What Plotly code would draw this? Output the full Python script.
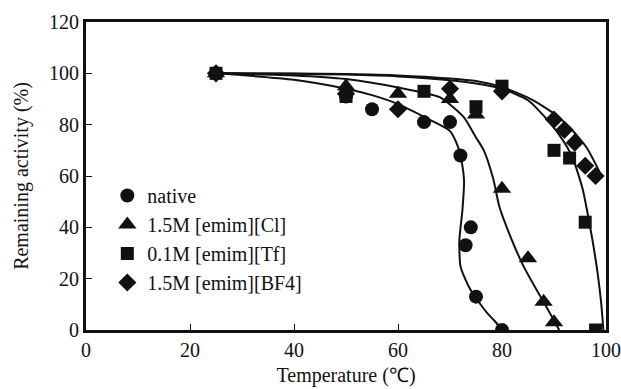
import plotly.graph_objects as go

# ---- measured data points ----
native_T = [25, 50, 55, 65, 70, 72, 73, 74, 75, 80]
native_A = [100, 91, 86, 81, 81, 68, 33, 40, 13, 0]

cl_T = [25, 50, 60, 70, 75, 80, 85, 88, 90]
cl_A = [100, 95, 92, 90, 84, 55, 28, 11, 3]

tf_T = [25, 50, 65, 75, 80, 90, 93, 96, 98]
tf_A = [100, 91, 93, 87, 95, 70, 67, 42, 0]

bf4_T = [25, 50, 60, 70, 80, 90, 92, 94, 96, 98]
bf4_A = [100, 92, 86, 94, 93, 82, 78, 73, 64, 60]

# ---- fitted curves ----
native_fit_T = [25, 40, 50, 55, 60, 66, 70, 71.6, 72.3, 72.7, 72.4, 71.8, 72.0, 73.0, 74.0, 75.5, 77.2, 78.6, 80]
native_fit_A = [100, 97.5, 94, 91.5, 88, 82, 77.5, 71, 65, 58, 47, 35, 25, 19.5, 15.5, 11, 6.5, 3.5, 0]

cl_fit_T = [25, 40, 50, 60, 68, 72.6, 75, 76.5, 78.3, 79.5, 81.7, 84.2, 87.4, 89.6, 91]
cl_fit_A = [100, 99.2, 97.8, 94.5, 90.7, 83, 75, 70, 59, 48, 36, 24.6, 13, 5.2, 0]

tf_fit_T = [25, 40, 50, 60, 70, 75, 80, 85, 88, 91, 93.5, 95.5, 96.5, 97.4, 98.4, 99.1, 99.5]
tf_fit_A = [100, 99.8, 99.5, 98.8, 97.3, 96, 94, 89.5, 83.5, 76, 67.5, 55, 45, 35, 22, 10, 0]

bf4_fit_T = [25, 40, 50, 60, 70, 75, 80, 85, 88, 90.5, 93, 96.3, 98.9]
bf4_fit_A = [100, 99.9, 99.7, 99.2, 98, 97, 94.6, 90.5, 87, 83.5, 79, 71, 61]

names = ["native", "1.5M [emim][Cl]", "0.1M [emim][Tf]", "1.5M [emim][BF4]"]

FONT = "Liberation Serif, Times New Roman, serif"
INK = "#111111"

fig = go.Figure()

for fx, fy in [(native_fit_T, native_fit_A), (cl_fit_T, cl_fit_A),
               (tf_fit_T, tf_fit_A), (bf4_fit_T, bf4_fit_A)]:
    fig.add_trace(go.Scatter(x=fx, y=fy, mode="lines", showlegend=False,
                             line=dict(color=INK, width=2, shape="spline", smoothing=0.6),
                             hoverinfo="skip"))

series = [
    (native_T, native_A, "circle", 14),
    (cl_T, cl_A, "triangle-up", 16),
    (tf_T, tf_A, "square", 13),
    (bf4_T, bf4_A, "diamond", 14),
]
for i, ((xs, ys, sym, sz), nm) in enumerate(zip(series, names)):
    fig.add_trace(go.Scatter(x=xs, y=ys, mode="markers", name=nm,
                             legendgroup=f"g{i}",
                             marker=dict(symbol=sym, size=sz, color=INK,
                                         line=dict(width=0))))

axis_common = dict(showline=True, linewidth=3, linecolor=INK, mirror=True,
                   ticks="inside", ticklen=6, tickwidth=1, tickcolor=INK,
                   showgrid=False, zeroline=False, dtick=20, automargin=False,
                   ticklabeloverflow="allow",
                   tickfont=dict(family=FONT, size=20, color=INK))

fig.update_layout(
    width=621, height=389,
    margin=dict(l=86, r=15, t=22, b=59),
    paper_bgcolor="white", plot_bgcolor="white",
    font=dict(family=FONT, size=20, color=INK),
    xaxis=dict(range=[0, 100], tick0=0,
               title=dict(text="Temperature (℃)", font=dict(family=FONT, size=20, color=INK), standoff=8),
               **axis_common),
    yaxis=dict(range=[0, 120], tick0=0,
               title=dict(text="Remaining activity (%)", font=dict(family=FONT, size=20, color=INK), standoff=16),
               **axis_common),
    legend=dict(x=0.041, y=0.5, xanchor="left", yanchor="top",
                bgcolor="rgba(0,0,0,0)", borderwidth=0,
                font=dict(family=FONT, size=20, color=INK),
                tracegroupgap=0, itemsizing="trace"),
    showlegend=True,
)

fig.write_html("out.html",
               config={"displayModeBar": False},
               post_script="document.body.style.margin='0px';document.body.style.overflow='hidden';")
